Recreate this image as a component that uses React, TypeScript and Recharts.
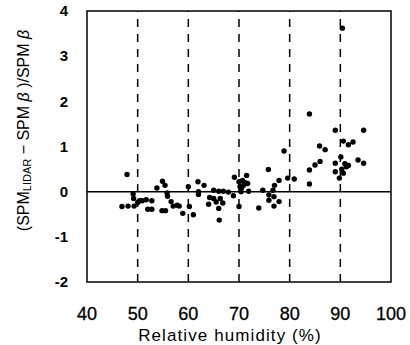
import React from "react";
import { ScatterChart, Scatter, XAxis, YAxis, ReferenceLine, ReferenceArea, Label } from "recharts";

const humidity = [
  47.9, 46.9, 48.1, 49.1, 49.2, 49.3, 50.0, 50.4, 50.9, 51.7, 52.0, 52.8, 52.8, 53.8, 54.9, 54.8, 55.5, 55.4, 55.8, 55.9,
  56.6, 57.0, 57.8, 58.2, 58.9, 60.0, 60.2, 61.0, 61.9, 62.0, 62.0, 63.1, 64.0, 64.2, 65.0, 65.0, 65.5, 66.0, 66.0, 66.1,
  66.3, 66.8, 66.9, 67.9, 68.9, 69.1, 70.0, 70.0, 70.2, 70.4, 70.7, 70.9, 71.5, 71.7, 71.9, 73.9, 74.7, 75.8, 75.9, 75.9,
  76.7, 76.9, 77.0, 76.9, 77.9, 77.9, 78.9, 79.6, 80.9, 83.9, 83.9, 83.9, 85.0, 85.9, 86.0, 87.0, 89.0, 89.0, 89.0, 90.1,
  89.8, 90.4, 90.6, 90.6, 90.9, 91.6, 91.6, 92.5, 93.5, 94.6, 94.6, 90.3, 91.2, 70.5, 71.2,
];
const ratio = [
  0.38, -0.33, -0.32, -0.05, -0.15, -0.32, -0.24, -0.2, -0.2, -0.18, -0.39, -0.39, -0.2, 0.08, 0.23, -0.42, -0.42, 0.14, -0.03, -0.1,
  -0.22, -0.32, -0.3, -0.32, -0.48, 0.11, -0.33, -0.51, 0.22, 0.0, -0.06, 0.14, -0.28, -0.13, 0.03, -0.15, -0.23, 0.01, -0.37, -0.63,
  -0.15, -0.25, 0.01, -0.01, -0.09, 0.32, -0.33, 0.22, 0.11, 0.0, 0.25, 0.14, 0.36, 0.18, 0.01, -0.36, 0.03, 0.49, -0.07, -0.19,
  0.03, -0.32, 0.14, -0.11, 0.25, -0.22, 0.9, 0.3, 0.28, 1.72, 0.48, 0.17, 0.59, 1.01, 0.67, 0.93, 1.36, 0.63, 0.44, 0.77,
  0.3, 3.62, 1.12, 0.41, 0.62, 1.04, 0.58, 1.1, 0.7, 1.36, 0.63, 0.5, 0.55, 0.08, 0.2,
];
const xTicks = [40, 50, 60, 70, 80, 90, 100];
const yTicks = [-2, -1, 0, 1, 2, 3, 4];
const dashedLines = [50, 60, 70, 80, 90];

const data = humidity.map((h, i) => ({ h, r: ratio[i] }));

const FONT = "'Liberation Sans', Arial, sans-serif";

const Dot = (p: any) => <circle cx={p.cx} cy={p.cy} r={2.7} fill="#000" />;

const YTitle = (props: any) => {
  const vb = props.viewBox || { x: 0, y: 0, width: 0, height: 0 };
  const cx = vb.x + 23;
  const cy = vb.y + vb.height / 2 - 16;
  return (
    <text
      x={cx}
      y={cy}
      transform={`rotate(-90, ${cx}, ${cy})`}
      textAnchor="middle"
      dominantBaseline="central"
      fontFamily={FONT}
      fontSize={16}
      fill="#000"
    >
      <tspan>(SPM</tspan>
      <tspan fontSize={11} dy={4}>LIDAR</tspan>
      <tspan dy={-4}> − SPM </tspan>
      <tspan fontStyle="italic">β</tspan>
      <tspan> )/SPM </tspan>
      <tspan fontStyle="italic">β</tspan>
    </text>
  );
};

export default function App() {
  return (
    <div style={{ position: "absolute", left: 0, top: 0, background: "#fff" }}>
      <ScatterChart width={410} height={345} margin={{ top: 11, right: 19, bottom: 0, left: 0 }}>
        <XAxis
          type="number"
          dataKey="h"
          domain={[40, 100]}
          ticks={xTicks}
          axisLine={false}
          tickLine={false}
          tickSize={0}
          tickMargin={25}
          height={63}
          interval={0}
          tick={{ fill: "#000", fontSize: 18, fontFamily: FONT, stroke: "#000", strokeWidth: 0.3 }}
        >
          <Label
            value="Relative humidity (%)"
            position="insideBottom"
            offset={4}
            dx={-9}
            style={{ fill: "#000", fontSize: 17, fontFamily: FONT, letterSpacing: 1.1 }}
          />
        </XAxis>
        <YAxis
          type="number"
          dataKey="r"
          domain={[-2, 4]}
          ticks={yTicks}
          axisLine={false}
          tickLine={false}
          tickSize={0}
          tickMargin={19}
          width={87}
          interval={0}
          tick={{ fill: "#000", fontSize: 15, fontWeight: "bold", fontFamily: FONT }}
          label={<YTitle />}
        />
        <ReferenceArea x1={40} x2={100} y1={-2} y2={4} fill="none" stroke="#000" strokeWidth={1.5} ifOverflow="visible" />
        {dashedLines.map((v) => (
          <ReferenceLine key={v} x={v} stroke="#000" strokeWidth={1.5} strokeDasharray="8 7" />
        ))}
        <ReferenceLine y={0} stroke="#000" strokeWidth={1.5} />
        <Scatter data={data} shape={Dot} isAnimationActive={false} />
      </ScatterChart>
    </div>
  );
}
